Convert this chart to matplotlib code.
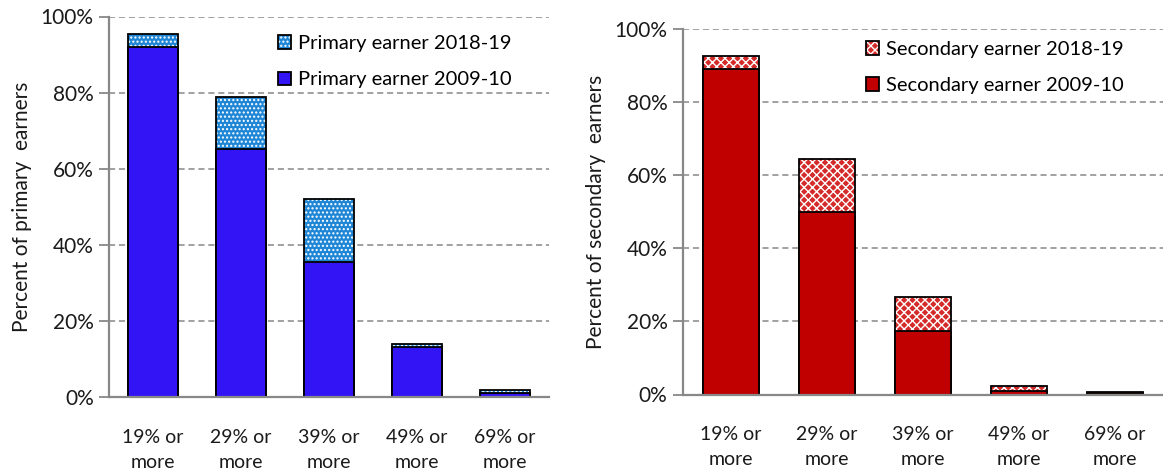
import matplotlib.pyplot as plt
from matplotlib.patches import Patch
from matplotlib.legend_handler import HandlerTuple
import numpy as np

plt.rcParams['font.family'] = ['Lato', 'DejaVu Sans']
plt.rcParams['hatch.linewidth'] = 1.0

categories = ['19% or\nmore', '29% or\nmore', '39% or\nmore', '49% or\nmore', '69% or\nmore']

primary_2009 = [91.9, 65.3, 35.4, 13.2, 1.0]
primary_2018 = [95.5, 78.9, 52.1, 14.0, 1.8]
secondary_2009 = [89.2, 49.9, 17.4, 1.0, 0.3]
secondary_2018 = [92.6, 64.4, 26.7, 2.4, 0.6]

W, H = 1163, 472
fig = plt.figure(figsize=(W / 100, H / 100), dpi=100)

ax1 = fig.add_axes([109 / W, 1 - 397 / H, 440 / W, 380.5 / H])
ax2 = fig.add_axes([682.7 / W, 1 - 394.5 / H, 480.3 / W, 365.2 / H])

panels = [
    (ax1, primary_2009, primary_2018, '#3314F5', '#1F86D6', '....',
     'Primary earner', 'Percent of primary  earners', 0.57, (0.365, 0.972)),
    (ax2, secondary_2009, secondary_2018, '#C00000', '#D42A2A', 'xxxx',
     'Secondary earner', 'Percent of secondary  earners', 0.58, (0.365, 0.99)),
]

TXT = '#1a1a1a'

for ax, v09, v18, c09, c18, hatch, name, ylab, bw, legpos in panels:
    x = np.arange(len(categories))
    # later year behind (hatched, white pattern), earlier year in front
    ax.bar(x, v18, bw, color=c18, edgecolor='white', hatch=hatch, linewidth=0, zorder=2)
    ax.bar(x, v18, bw, fill=False, edgecolor='black', linewidth=1.3, zorder=3)
    ax.bar(x, v09, bw, color=c09, edgecolor='black', linewidth=1.3, zorder=4)

    ax.set_xlim(-0.5, len(categories) - 0.5)
    ax.set_ylim(0, 100)
    ax.set_yticks(range(0, 101, 20))
    ax.set_yticklabels([f'{t}%' for t in range(0, 101, 20)], fontsize=15, color=TXT)
    ax.set_xticks(x)
    ax.set_xticklabels(categories, fontsize=14, color=TXT, linespacing=1.55)
    ax.tick_params(axis='x', length=0, pad=23)
    ax.tick_params(axis='y', length=7, width=1.3, color='#888888', pad=4)
    ax.yaxis.grid(True, linestyle=(0, (4, 2.5)), color='#888888', linewidth=1.1, zorder=0)
    ax.set_axisbelow(True)
    for s in ['top', 'right']:
        ax.spines[s].set_visible(False)
    for s in ['left', 'bottom']:
        ax.spines[s].set_color('#888888')
        ax.spines[s].set_linewidth(1.6)
        ax.spines[s].set_zorder(5)
    ax.set_ylabel(ylab, fontsize=15, color=TXT, labelpad=6)

    h18 = (Patch(facecolor=c18, edgecolor='white', hatch=hatch, linewidth=0),
           Patch(fill=False, edgecolor='black', linewidth=1.3))
    h09 = Patch(facecolor=c09, edgecolor='black', linewidth=1.3)
    ax.legend([h18, h09], [f'{name} 2018-19', f'{name} 2009-10'],
              handler_map={tuple: HandlerTuple(ndivide=1, pad=0)},
              loc='upper left', bbox_to_anchor=legpos, frameon=False,
              fontsize=14.5, handlelength=0.65, handleheight=0.65,
              handletextpad=0.35, labelspacing=0.95, borderaxespad=0)

fig.savefig('out.png', dpi=100)
